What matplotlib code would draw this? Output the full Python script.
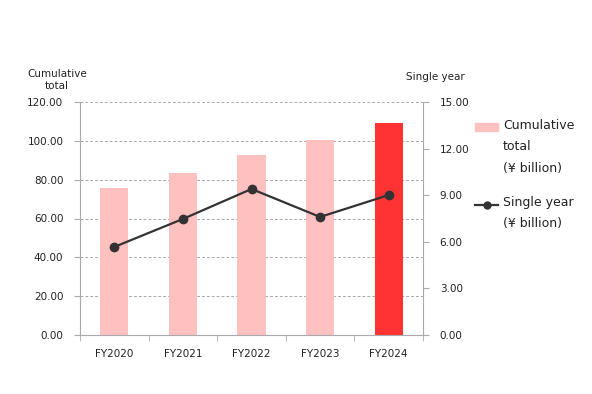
import matplotlib
matplotlib.use('Agg')
import matplotlib.pyplot as plt
from matplotlib.patches import Rectangle
from matplotlib.lines import Line2D
import numpy as np

years = ['FY2020', 'FY2021', 'FY2022', 'FY2023', 'FY2024']
cumulative = [75.7, 83.3, 92.7, 100.3, 109.2]
single_year = [5.67, 7.47, 9.40, 7.60, 9.01]
bar_colors = ['#ffc0c0', '#ffc0c0', '#ffc0c0', '#ffc0c0', '#ff3333']

plt.rcParams['font.family'] = 'DejaVu Sans'
fig = plt.figure(figsize=(5.92, 3.94), dpi=100)
ax = fig.add_axes([80/592, 1-335/394, 343/592, 233/394])
ax2 = ax.twinx()

x = np.arange(len(years))
ax.bar(x, cumulative, width=0.41, color=bar_colors, zorder=2)
ax2.plot(x, single_year, color='#333333', lw=1.6, marker='o', ms=6, zorder=3)

ax.set_xlim(-0.5, 4.5)
ax.set_ylim(0, 120)
ax2.set_ylim(0, 15)
ax.set_yticks(np.arange(0, 121, 20))
ax.set_yticklabels(['%.2f' % v for v in np.arange(0, 121, 20)])
ax2.set_yticks(np.arange(0, 15.1, 3))
ax2.set_yticklabels(['%.2f' % v for v in np.arange(0, 15.1, 3)])
ax.yaxis.grid(True, color='#aaaaaa', ls=(0, (3, 2)), lw=0.7, zorder=0)
ax.set_axisbelow(True)

ax.set_xticks(x)
ax.set_xticklabels(years)
ax.set_xticks(np.arange(-0.5, 5, 1), minor=True)
ax.tick_params(axis='x', which='major', length=0, pad=10, labelsize=7.5, colors='#222222')
ax.tick_params(axis='x', which='minor', length=4, color='#aaaaaa')
ax.tick_params(axis='y', length=4, color='#aaaaaa', labelsize=7.5, labelcolor='#222222', pad=8)
ax2.tick_params(axis='y', length=4, color='#aaaaaa', labelsize=7.5, labelcolor='#222222', pad=8)

for a in (ax, ax2):
    a.spines['top'].set_visible(False)
    for s in ('left', 'right', 'bottom'):
        a.spines[s].set_color('#aaaaaa')
ax.spines['right'].set_visible(False)
ax2.spines['left'].set_visible(False)
ax2.spines['bottom'].set_visible(False)

fig.text(57/592, 1-80/394, 'Cumulative\ntotal', ha='center', va='center', fontsize=7.5,
         color='#222222', linespacing=1.3)
fig.text(435/592, 1-77/394, 'Single year', ha='center', va='center', fontsize=7.5, color='#222222')

# legend drawn by hand
fig.patches.append(Rectangle((475/592, 1-131/394), 23/592, 8/394, transform=fig.transFigure,
                             color='#ffc0c0', figure=fig))
fig.text(503/592, 1-119/394, 'Cumulative\ntotal\n(¥ billion)', ha='left', va='top', fontsize=9,
         color='#222222', linespacing=1.85)
fig.lines.append(Line2D([475/592, 498/592], [1-205/394, 1-205/394], transform=fig.transFigure,
                        color='#333333', lw=1.6, figure=fig))
fig.lines.append(Line2D([487/592], [1-205/394], transform=fig.transFigure, color='#333333',
                        marker='o', ms=5, figure=fig))
fig.text(503/592, 1-196/394, 'Single year\n(¥ billion)', ha='left', va='top', fontsize=9,
         color='#222222', linespacing=1.85)

fig.savefig('out.png', dpi=100)
